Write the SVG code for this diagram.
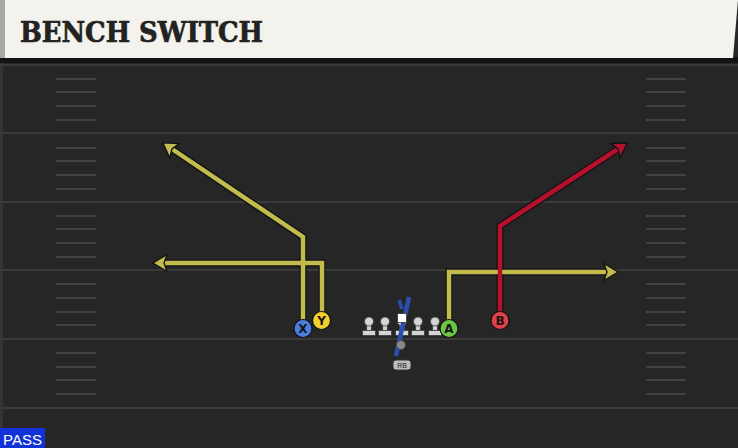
<svg xmlns="http://www.w3.org/2000/svg" width="738" height="448" viewBox="0 0 738 448">
<style>
.yard{stroke:#3a3a3a;stroke-width:2}
.hash{stroke:#424242;stroke-width:2}
.out{fill:none;stroke:#121212;stroke-width:7;stroke-linejoin:miter}
.yel{fill:none;stroke:#c1bc4d;stroke-width:4.5}
.red{fill:none;stroke:#b5102c;stroke-width:4.5}
.lbl{font-family:"DejaVu Sans","Liberation Sans",sans-serif;font-weight:bold;font-size:12px;fill:#151515;text-anchor:middle}
.lm{fill:#d4d4d4;stroke:#3a3a3a;stroke-width:0.8}
</style>
<defs>
<marker id="ay" markerUnits="userSpaceOnUse" markerWidth="30" markerHeight="30" viewBox="-8 -15 30 30" refX="2" refY="0" orient="auto">
<path d="M-1,-8.5 L13,0 L-1,8.5 L2,0 z" fill="#c1bc4d" stroke="#121212" stroke-width="1.3"/>
</marker>
<marker id="ar" markerUnits="userSpaceOnUse" markerWidth="30" markerHeight="30" viewBox="-8 -15 30 30" refX="2" refY="0" orient="auto">
<path d="M-1,-8.5 L13,0 L-1,8.5 L2,0 z" fill="#b5102c" stroke="#121212" stroke-width="1.3"/>
</marker>
<g id="lineman">
<rect x="-2.3" y="-1" width="4.6" height="9" class="lm"/>
<rect x="-6.5" y="7.5" width="13" height="5" rx="1" class="lm"/>
<circle cx="0" cy="-1.5" r="4.5" class="lm"/>
</g>
</defs>
<rect width="738" height="448" fill="#262626"/>
<rect x="0" y="58" width="3" height="390" fill="#333"/>
<g id="field">
<line class="yard" x1="0" y1="65" x2="738" y2="65"/>
<line class="yard" x1="0" y1="133" x2="738" y2="133"/>
<line class="yard" x1="0" y1="202" x2="738" y2="202"/>
<line class="yard" x1="0" y1="270" x2="738" y2="270"/>
<line class="yard" x1="0" y1="339" x2="738" y2="339"/>
<line class="yard" x1="0" y1="408" x2="738" y2="408"/>
<g class="hash">
<path d="M56 79H96M56 92H96M56 106H96M56 120H96M56 148H96M56 161H96M56 175H96M56 189H96M56 216H96M56 229H96M56 243H96M56 257H96M56 284H96M56 298H96M56 312H96M56 325H96M56 353H96M56 367H96M56 380H96M56 394H96"/>
<path d="M646 79H686M646 92H686M646 106H686M646 120H686M646 148H686M646 161H686M646 175H686M646 189H686M646 216H686M646 229H686M646 243H686M646 257H686M646 284H686M646 298H686M646 312H686M646 325H686M646 353H686M646 367H686M646 380H686M646 394H686"/>
</g>
</g>
<g id="header">
<rect x="0" y="57" width="738" height="6" fill="#141414"/>
<polygon points="0,0 738,0 733,58 0,58" fill="#f4f2ec"/>
<rect x="0" y="0" width="5" height="58" fill="#a8a8a6"/>
<text x="20" y="42" font-family="DejaVu Serif, Liberation Serif, serif" font-weight="bold" font-size="28" fill="#222" stroke="#222" stroke-width="0.7" textLength="243" lengthAdjust="spacingAndGlyphs">BENCH SWITCH</text>
</g>
<g id="connectors">
<polyline class="out" points="303,328 303,237 172,149"/>
<polyline class="out" points="322,320 322,263 164,263"/>
<polyline class="out" points="449,328 449,272 607,272"/>
<polyline class="out" points="500,320 500,226 618,149"/>
<polyline class="yel" points="303,328 303,237 172,149" marker-end="url(#ay)"/>
<polyline class="yel" points="322,320 322,263 164,263" marker-end="url(#ay)"/>
<polyline class="yel" points="449,328 449,272 607,272" marker-end="url(#ay)"/>
<polyline class="red" points="500,320 500,226 618,149" marker-end="url(#ar)"/>
</g>
<g id="line">
<use href="#lineman" x="369" y="323"/>
<use href="#lineman" x="385" y="323"/>
<use href="#lineman" x="418" y="323"/>
<use href="#lineman" x="435" y="323"/>
<g id="center">
<use href="#lineman" x="402" y="323"/>
</g>
</g>
<g id="qb">
<path d="M396 356 L409 297" fill="none" stroke="#2b4fae" stroke-width="4.5"/>
<path d="M399 300 L402 309" fill="none" stroke="#2b4fae" stroke-width="3.5"/>
<rect x="397.5" y="313.5" width="9" height="9" fill="#ffffff" stroke="#333" stroke-width="0.8"/>
<circle cx="401" cy="345" r="4.5" fill="#8a8a8a" stroke="#444" stroke-width="0.8"/>
</g>
<g id="rb">
<rect x="393" y="360" width="18" height="10" rx="3" fill="#bdbdbd" stroke="#333" stroke-width="1"/>
<text x="402" y="368" font-family="Liberation Sans, sans-serif" font-size="7" fill="#222" text-anchor="middle">RB</text>
</g>
<g id="X"><circle cx="303" cy="328.5" r="9" fill="#4b7fdf" stroke="#121212" stroke-width="1.2"/><text class="lbl" x="303" y="333">X</text></g>
<g id="Y"><circle cx="321.5" cy="320.5" r="9" fill="#f2cf2e" stroke="#121212" stroke-width="1.2"/><text class="lbl" x="321.5" y="325">Y</text></g>
<g id="A"><circle cx="449" cy="328.5" r="9" fill="#6cc544" stroke="#121212" stroke-width="1.2"/><text class="lbl" x="449" y="333">A</text></g>
<g id="B"><circle cx="500" cy="320.5" r="9" fill="#e2414b" stroke="#121212" stroke-width="1.2"/><text class="lbl" x="500" y="325">B</text></g>
<g id="pass">
<rect x="0" y="428" width="45" height="20" fill="#1232d8"/>
<text x="3" y="445" font-family="Liberation Sans, sans-serif" font-size="15" fill="#ffffff">PASS</text>
</g>
</svg>
